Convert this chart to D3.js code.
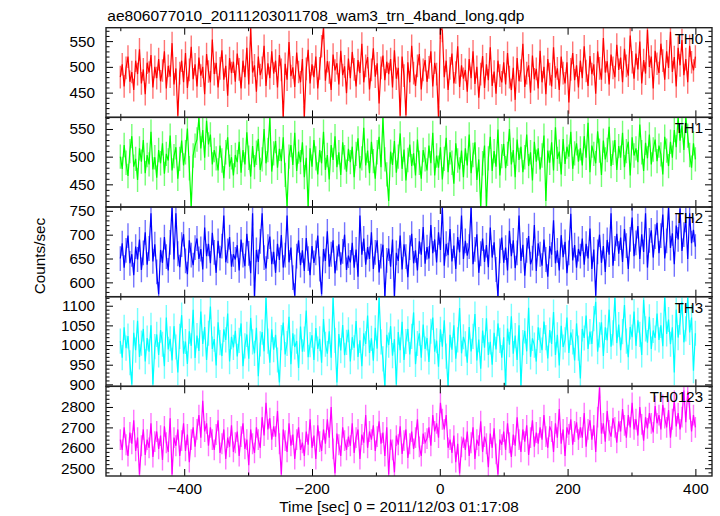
<!DOCTYPE html>
<html><head><meta charset="utf-8">
<script src="https://cdn.jsdelivr.net/npm/d3@7"></script>
<style>
body{margin:0;background:#fff;}
svg{display:block;font-family:"Liberation Sans",Arial,Helvetica,sans-serif;}
</style></head><body>
<svg id="chart" width="720" height="516"></svg>
<script>
const title = "ae806077010_20111203011708_wam3_trn_4band_long.qdp";
const xLabel = "Time [sec] 0 = 2011/12/03 01:17:08";
const yLabel = "Counts/sec";
const binStart = -500, binSize = 3;
const bandNames = ["TH0", "TH1", "TH2", "TH3", "TH0123"];
const bandColors = ["#ff0000", "#00ff00", "#0000ff", "#00ffff", "#ff00ff"];
// typical 1-sigma error bar half-length of each band (counts/sec)
const bandErrors = [22, 22, 26, 32, 51];

const th0 = [
480,505,462,498,520,471,490,455,512,486,534,468,495,447,508,489,523,460,500,478,
515,472,493,530,458,502,481,546,466,497,405,488,512,470,527,459,494,539,476,505,
462,518,483,500,447,525,491,470,553,486,508,460,497,532,475,502,444,517,488,510,
471,526,495,458,512,480,537,466,575,489,503,452,520,484,498,541,463,507,478,530,
487,512,460,523,494,402,506,475,548,482,499,461,528,490,470,515,402,496,533,468,
505,480,520,458,497,540,576,473,511,489,455,524,493,507,466,531,484,501,449,516,
478,529,495,462,513,488,545,470,502,519,456,494,536,481,507,429,498,522,474,510,
486,515,460,532,477,498,405,520,483,406,509,470,541,488,463,502,525,456,494,513,
471,499,530,462,508,486,402,576,570,480,512,455,497,526,468,489,540,461,503,477,
494,452,515,478,530,467,500,440,486,521,459,505,474,538,463,491,448,512,483,470,
509,466,527,480,455,498,436,517,472,493,545,461,488,503,450,522,476,496,458,531,
470,500,447,515,486,462,538,479,497,455,520,488,468,509,431,495,527,474,503,460,
512,478,540,492,463,521,486,505,448,530,497,475,556,489,511,466,524,498,480,543,
494,518,470,535,502,483,561,509,477,526,495,549,468,513,487,572,500,520,458,531,
506,488,545,512,475,530,498,568,490,519,462,537,503,552,484,515,470,541,509,493,
520];

const th1 = [
500,478,521,489,465,510,537,482,496,458,515,491,530,470,503,486,545,477,499,462,
512,488,524,469,505,493,538,475,501,517,460,496,529,484,508,551,479,409,502,520,
531,570,515,548,498,565,522,540,486,512,497,475,520,493,461,508,535,482,499,466,
503,490,527,471,512,486,544,498,464,519,481,507,532,476,495,550,488,512,570,473,
506,528,480,514,492,535,467,410,500,521,485,543,474,509,490,526,463,498,409,515,
482,530,497,468,512,488,545,476,503,459,521,494,537,481,508,467,526,499,473,514,
490,518,463,505,533,479,497,552,484,511,470,527,492,460,508,536,481,570,495,468,
420,509,485,528,471,500,542,478,513,457,494,522,483,506,466,531,489,460,512,495,
475,520,488,543,466,502,480,517,459,496,534,472,508,489,451,524,493,477,511,463,
515,484,540,470,503,526,458,495,409,488,520,409,497,536,474,510,482,549,466,501,
523,479,505,550,486,512,463,531,494,518,472,499,540,483,508,457,527,491,515,477,
502,538,420,511,489,526,475,553,496,509,468,532,487,518,500,545,478,506,524,491,
515,484,537,498,561,472,520,505,488,546,511,467,529,495,512,554,483,507,530,476,
519,498,543,481,510,527,466,535,502,515,490,558,508,474,525,497,540,486,513,531,
492,520,504,468,536,511,483,527,498,548,517,571,529,556,512,571,538,503,480,524,
495];

const th2 = [
650,682,631,667,698,640,659,615,675,648,690,626,662,705,637,671,745,644,680,622,
575,668,641,695,654,625,684,758,648,745,660,632,679,701,645,617,688,657,636,673,
692,649,670,627,715,655,681,640,704,663,620,687,651,676,740,642,666,695,633,659,
648,678,625,690,657,634,702,661,619,745,570,668,643,686,745,652,629,675,696,638,
664,620,681,647,699,631,657,740,642,673,610,572,655,688,636,667,624,693,650,615,
676,641,662,698,628,575,670,645,707,633,659,688,619,651,680,637,665,700,626,656,
642,683,631,669,612,740,658,692,637,674,649,705,628,663,688,621,655,679,570,646,
671,633,690,570,662,645,698,627,680,654,611,673,702,640,667,625,686,658,716,639,
674,650,720,661,690,642,705,668,758,635,681,657,712,644,677,628,695,663,740,649,
687,656,675,758,638,669,701,620,660,692,643,678,632,715,652,684,627,570,666,694,
641,673,625,708,655,688,630,662,740,645,679,614,667,697,638,651,720,624,682,659,
635,690,648,612,676,658,730,640,667,625,699,653,685,619,662,744,646,678,631,670,
655,692,637,681,650,713,628,669,572,664,700,641,676,622,689,658,745,635,671,702,
660,694,643,712,677,628,690,736,655,683,718,649,701,664,745,631,688,709,652,696,
725,661,698,742,650,687,758,672,703,638,719,690,755,666,700,731,649,745,682,710,
675];

const th3 = [
1010,968,1045,992,1023,955,900,1031,987,1062,970,1005,1041,958,1018,983,1050,900,996,1027,
975,1038,1002,946,1070,989,1016,961,1048,995,930,1022,1076,978,1009,952,1035,998,1090,967,
1024,985,1085,1003,1046,962,1030,1098,990,1015,948,1058,1006,972,1040,1013,1080,958,1021,994,
1036,971,1012,1055,946,998,1027,965,1069,1008,979,1044,921,1003,1033,984,1120,1010,955,1040,
988,1026,962,905,1019,1057,976,1004,1072,951,1030,995,1010,942,1047,983,1015,1088,969,1001,
1025,962,1043,990,1016,955,1066,1002,978,1035,968,1120,1012,905,1028,986,1051,974,1007,1039,
958,1020,993,1061,970,1012,946,1030,1003,1075,980,1017,960,1044,991,1120,1008,965,895,1026,
1000,1048,973,1015,900,1033,987,1059,962,1009,1041,976,1022,1083,951,1004,1030,968,1052,990,
1018,957,1035,1070,983,1011,945,1040,996,1063,972,895,1026,988,1050,965,1013,1094,979,1021,
1003,955,1046,984,1022,1079,961,1014,940,1037,993,1068,975,1008,950,1031,989,1055,1012,968,
1020,895,1042,1001,1073,978,1024,962,1050,897,1006,1036,984,1095,970,1017,1000,958,1045,1012,
987,1060,1019,966,1038,1003,1084,975,1026,948,1049,995,1013,1070,980,1032,1008,961,1055,992,
915,1041,1018,1075,990,1034,1003,1067,1110,983,1026,1058,972,1045,1012,1090,996,1031,1120,1005,
1052,987,1034,1102,1010,969,1046,1020,1085,998,1063,1027,975,1115,1041,1006,1072,990,1037,1018,
1080,1013,1050,997,1123,1028,1065,1002,1045,930,1090,1019,1058,1110,1007,1041,1123,1032,1070,935,
1030];

const th0123 = [
2640,2590,2700,2615,2560,2675,2620,2735,2585,2650,2470,2610,2690,2565,2640,2600,2720,2555,2630,2680,
2595,2660,2540,2705,2625,2580,2745,2470,2650,2610,2690,2560,2635,2720,2585,2665,2530,2640,2700,2605,
2690,2760,2650,2830,2680,2720,2610,2700,2640,2590,2665,2735,2575,2620,2690,2545,2650,2605,2710,2580,
2625,2680,2560,2655,2720,2595,2640,2515,2690,2620,2575,2700,2640,2600,2750,2660,2820,2690,2745,2640,
2705,2655,2780,2620,2470,2690,2635,2580,2720,2610,2665,2545,2640,2700,2590,2625,2560,2680,2615,2740,
2600,2660,2545,2710,2630,2585,2690,2620,2740,2650,2800,2595,2475,2670,2615,2560,2700,2635,2590,2655,
2610,2720,2575,2650,2690,2545,2665,2625,2760,2600,2680,2640,2710,2585,2655,2730,2620,2675,2560,2700,
2470,2640,2590,2480,2660,2615,2705,2570,2635,2690,2550,2620,2680,2595,2650,2740,2605,2560,2670,2625,
2645,2700,2610,2760,2680,2720,2650,2820,2740,2690,2760,2600,2640,2575,2660,2530,2620,2475,2605,2650,
2590,2680,2560,2625,2700,2545,2640,2610,2730,2580,2655,2620,2505,2670,2600,2695,2570,2470,2640,2615,
2680,2590,2720,2625,2555,2665,2610,2750,2640,2580,2690,2630,2710,2565,2650,2735,2605,2675,2620,2700,
2640,2760,2655,2600,2705,2680,2580,2720,2650,2790,2620,2690,2560,2700,2665,2740,2615,2680,2725,2640,
2700,2650,2770,2605,2690,2735,2640,2710,2580,2750,2895,2670,2720,2630,2780,2685,2655,2745,2700,2625,
2730,2680,2790,2710,2650,2760,2700,2820,2690,2740,2660,2800,2715,2635,2750,2695,2770,2720,2675,2805,
2720,2760,2690,2810,2745,2700,2785,2650,2740,2830,2705,2770,2690,2750,2880,2725,2875,2790,2680,2760,
2700];

const yDomains = [[402, 576], [409, 571], [570, 758], [895, 1123], [2462, 2901]];
const yMajorTicks = [[450, 500, 550], [450, 500, 550], [600, 650, 700, 750], [900, 950, 1000, 1050, 1100], [2500, 2600, 2700, 2800]];
const yMinorStep = [10, 10, 10, 10, 20];
const xDomain = [-522.4, 426];
const xMajorTicks = [-400, -200, 0, 200, 400];
const xMinorTicks = [-500, -300, -100, 100, 300];

const series = [th0, th1, th2, th3, th0123];

const svg = d3.select("#chart");
const plotLeft = 106, plotRight = 712, plotTop = 27.7, plotBottom = 476;
const nP = series.length;
const ph = (plotBottom - plotTop) / nP;
const FS = 15.3;
const majorLen = 7, minorLen = 3.5;

const x = d3.scaleLinear().domain(xDomain).range([plotLeft, plotRight]);
const fmtX = d3.format("d");
const tickFmt = v => (v < 0 ? "\u2212" + fmtX(-v) : fmtX(v));

series.forEach((vals, i) => {
  const top = plotTop + i * ph, bot = top + ph;
  const y = d3.scaleLinear().domain(yDomains[i]).range([bot, top]);
  const data = vals.map((v, k) => ({t: binStart + k * binSize, v}));
  const err = bandErrors[i];

  svg.append("clipPath").attr("id", "clip" + i)
    .append("rect").attr("x", plotLeft).attr("y", top).attr("width", plotRight - plotLeft).attr("height", ph);

  const gData = svg.append("g").attr("clip-path", "url(#clip" + i + ")");
  gData.selectAll("line.err").data(data).join("line").attr("class", "err")
    .attr("x1", d => x(d.t)).attr("x2", d => x(d.t))
    .attr("y1", d => y(d.v - err)).attr("y2", d => y(d.v + err))
    .attr("stroke", bandColors[i]).attr("stroke-width", 1.4).attr("stroke-opacity", 0.55);

  const line = d3.line().x(d => x(d.t)).y(d => y(d.v));
  gData.append("path").datum(data)
    .attr("fill", "none").attr("stroke", bandColors[i]).attr("stroke-width", 1.2)
    .attr("d", line);

  const minorY = d3.range(yDomains[i][0] - (yDomains[i][0] % yMinorStep[i]) + yMinorStep[i], yDomains[i][1], yMinorStep[i])
    .filter(v => !yMajorTicks[i].includes(v));

  const clean = g => { g.select(".domain").remove(); g.selectAll("line").attr("stroke", "#000").attr("stroke-width", 1); };

  svg.append("g").attr("transform", `translate(${plotLeft},0)`)
    .call(d3.axisLeft(y).tickValues(yMajorTicks[i]).tickSize(-majorLen).tickPadding(11).tickFormat(d3.format("d")))
    .call(clean)
    .call(g => g.selectAll("text").attr("font-size", FS).attr("fill", "#000").attr("font-family", "Liberation Sans, Arial, sans-serif"));
  svg.append("g").attr("transform", `translate(${plotLeft},0)`)
    .call(d3.axisLeft(y).tickValues(minorY).tickSize(-minorLen).tickFormat(""))
    .call(clean);
  svg.append("g").attr("transform", `translate(${plotRight},0)`)
    .call(d3.axisRight(y).tickValues(yMajorTicks[i]).tickSize(-majorLen).tickFormat(""))
    .call(clean);
  svg.append("g").attr("transform", `translate(${plotRight},0)`)
    .call(d3.axisRight(y).tickValues(minorY).tickSize(-minorLen).tickFormat(""))
    .call(clean);
  svg.append("g").attr("transform", `translate(0,${top})`)
    .call(d3.axisTop(x).tickValues(xMajorTicks).tickSize(-majorLen).tickFormat(""))
    .call(clean);
  svg.append("g").attr("transform", `translate(0,${top})`)
    .call(d3.axisTop(x).tickValues(xMinorTicks).tickSize(-minorLen).tickFormat(""))
    .call(clean);
  const bAx = svg.append("g").attr("transform", `translate(0,${bot})`)
    .call(d3.axisBottom(x).tickValues(xMajorTicks).tickSize(-majorLen)
      .tickFormat(i === nP - 1 ? tickFmt : ""))
    .call(clean);
  bAx.selectAll("text").attr("y", 17.5).attr("dy", 0).attr("font-size", FS).attr("fill", "#000")
    .attr("font-family", "Liberation Sans, Arial, sans-serif");
  svg.append("g").attr("transform", `translate(0,${bot})`)
    .call(d3.axisBottom(x).tickValues(xMinorTicks).tickSize(-minorLen).tickFormat(""))
    .call(clean);

  svg.append("rect").attr("x", plotLeft).attr("y", top).attr("width", plotRight - plotLeft).attr("height", ph)
    .attr("fill", "none").attr("stroke", "#222").attr("stroke-width", 1.4);

  svg.append("text").attr("x", 703).attr("y", top + 16)
    .attr("text-anchor", "end").attr("font-size", 15).attr("fill", "#000")
    .text(bandNames[i]);
});

svg.append("text").attr("x", 107.3).attr("y", 20.7).attr("font-size", 15.5).attr("fill", "#000").text(title);
svg.append("text").attr("x", 399).attr("y", 512).attr("text-anchor", "middle").attr("font-size", FS).attr("fill", "#000").text(xLabel);
svg.append("text").attr("transform", "translate(45,256) rotate(-90)").attr("text-anchor", "middle")
  .attr("font-size", FS).attr("fill", "#000").text(yLabel);
</script>
</body></html>
